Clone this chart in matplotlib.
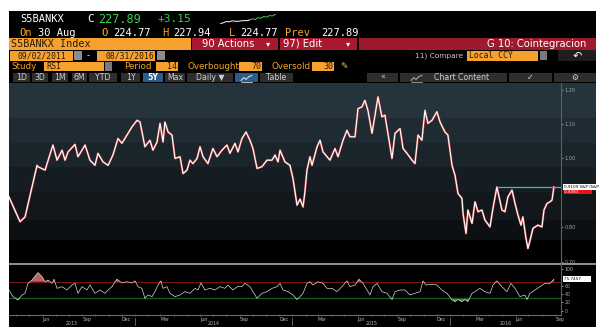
import matplotlib
matplotlib.use('Agg')
import matplotlib.pyplot as plt
import matplotlib.dates as mdates
import matplotlib.transforms as mtrans
from matplotlib.patches import Rectangle
from matplotlib.ticker import FormatStrFormatter
import numpy as np
import pandas as pd

# S5BANKX relative to S&P 500 (time as decimal year)
price_t = [2013.200, 2013.270, 2013.302, 2013.378, 2013.384, 2013.429, 2013.479, 2013.505, 2013.537, 2013.556,
           2013.575, 2013.619, 2013.638, 2013.683, 2013.714, 2013.746, 2013.765, 2013.797, 2013.829, 2013.860,
           2013.892, 2013.917, 2013.949, 2013.981, 2014.013, 2014.032, 2014.063, 2014.095, 2014.114, 2014.140,
           2014.159, 2014.178, 2014.190, 2014.210, 2014.235, 2014.254, 2014.286, 2014.305, 2014.330, 2014.349,
           2014.368, 2014.394, 2014.413, 2014.432, 2014.463, 2014.495, 2014.521, 2014.552, 2014.584, 2014.603,
           2014.635, 2014.654, 2014.679, 2014.705, 2014.730, 2014.749, 2014.775, 2014.806, 2014.838, 2014.870,
           2014.889, 2014.908, 2014.921, 2014.952, 2014.984, 2015.003, 2015.029, 2015.048, 2015.067, 2015.079,
           2015.092, 2015.111, 2015.124, 2015.156, 2015.175, 2015.194, 2015.238, 2015.270, 2015.289, 2015.321,
           2015.346, 2015.365, 2015.397, 2015.416, 2015.441, 2015.460, 2015.479, 2015.505, 2015.524, 2015.543,
           2015.568, 2015.587, 2015.606, 2015.632, 2015.651, 2015.683, 2015.702, 2015.727, 2015.759, 2015.778,
           2015.797, 2015.822, 2015.841, 2015.860, 2015.886, 2015.917, 2015.937, 2015.968, 2015.987, 2016.013,
           2016.032, 2016.051, 2016.076, 2016.083, 2016.102, 2016.114, 2016.140, 2016.159, 2016.178, 2016.203,
           2016.222, 2016.254, 2016.273, 2016.298, 2016.330, 2016.349, 2016.368, 2016.394, 2016.413, 2016.432,
           2016.451, 2016.463, 2016.483, 2016.495, 2016.514, 2016.527, 2016.559, 2016.584, 2016.597, 2016.616,
           2016.635, 2016.648, 2016.660]
price_v = [0.888, 0.816, 0.830, 0.980, 0.976, 0.966, 1.039, 0.995, 1.024, 0.995,
           1.019, 1.041, 1.005, 1.039, 0.995, 0.980, 1.015, 0.990, 0.980, 1.010,
           1.058, 1.044, 1.068, 1.092, 1.111, 1.106, 1.034, 1.053, 1.024, 1.048,
           1.102, 1.048, 1.106, 1.077, 1.068, 1.000, 1.005, 0.956, 0.966, 0.995,
           0.985, 1.000, 1.034, 1.005, 0.985, 1.029, 1.005, 1.024, 1.039, 1.015,
           1.044, 1.019, 1.058, 1.077, 1.053, 1.029, 0.971, 0.976, 0.995, 0.995,
           1.010, 0.990, 1.024, 0.990, 0.980, 0.942, 0.864, 0.882, 0.859, 0.903,
           0.966, 1.005, 0.980, 1.034, 1.053, 1.019, 0.995, 1.029, 1.005, 1.053,
           1.082, 1.063, 1.063, 1.145, 1.150, 1.169, 1.140, 1.073, 1.126, 1.179,
           1.121, 1.126, 1.073, 1.000, 1.073, 1.087, 1.029, 1.015, 0.995, 0.985,
           1.068, 1.053, 1.140, 1.102, 1.111, 1.136, 1.106, 1.077, 1.068, 0.980,
           0.951, 0.898, 0.884, 0.840, 0.782, 0.850, 0.811, 0.874, 0.845, 0.850,
           0.821, 0.801, 0.855, 0.917, 0.850, 0.845, 0.888, 0.908, 0.869, 0.835,
           0.806, 0.830, 0.767, 0.738, 0.772, 0.797, 0.806, 0.801, 0.850, 0.869,
           0.874, 0.879, 0.917]

# RSI(14)
rsi_t = [2013.200, 2013.225, 2013.257, 2013.283, 2013.302, 2013.321, 2013.346, 2013.384, 2013.410, 2013.429,
         2013.448, 2013.473, 2013.486, 2013.505, 2013.537, 2013.568, 2013.600, 2013.619, 2013.638, 2013.663,
         2013.695, 2013.714, 2013.746, 2013.778, 2013.810, 2013.829, 2013.854, 2013.873, 2013.886, 2013.917,
         2013.949, 2013.981, 2014.000, 2014.019, 2014.044, 2014.063, 2014.083, 2014.108, 2014.127, 2014.146,
         2014.165, 2014.178, 2014.203, 2014.222, 2014.254, 2014.286, 2014.317, 2014.349, 2014.381, 2014.400,
         2014.419, 2014.444, 2014.476, 2014.508, 2014.540, 2014.571, 2014.590, 2014.622, 2014.654, 2014.679,
         2014.698, 2014.730, 2014.749, 2014.775, 2014.806, 2014.838, 2014.870, 2014.902, 2014.921, 2014.940,
         2014.971, 2015.003, 2015.029, 2015.048, 2015.067, 2015.092, 2015.111, 2015.130, 2015.162, 2015.194,
         2015.219, 2015.251, 2015.283, 2015.314, 2015.346, 2015.365, 2015.397, 2015.422, 2015.448, 2015.473,
         2015.492, 2015.511, 2015.537, 2015.568, 2015.600, 2015.632, 2015.651, 2015.683, 2015.714, 2015.746,
         2015.778, 2015.810, 2015.829, 2015.848, 2015.886, 2015.917, 2015.949, 2015.981, 2016.013, 2016.032,
         2016.051, 2016.076, 2016.095, 2016.114, 2016.140, 2016.159, 2016.190, 2016.222, 2016.254, 2016.273,
         2016.298, 2016.330, 2016.362, 2016.387, 2016.413, 2016.444, 2016.476, 2016.489, 2016.508, 2016.540,
         2016.571, 2016.603, 2016.635, 2016.660]
rsi_v = [50, 34, 26, 38, 42, 66, 74, 92, 82, 70,
         74, 66, 76, 54, 58, 50, 62, 66, 42, 58,
         50, 62, 42, 50, 42, 50, 58, 70, 76, 67,
         70, 67, 72, 58, 54, 30, 38, 34, 46, 62,
         72, 54, 58, 42, 34, 38, 46, 42, 54, 50,
         67, 50, 54, 50, 58, 54, 62, 50, 59, 58,
         66, 58, 46, 30, 42, 46, 54, 58, 66, 50,
         46, 38, 27, 34, 42, 66, 70, 62, 70, 66,
         54, 54, 46, 58, 72, 58, 62, 76, 66, 50,
         38, 58, 66, 46, 42, 27, 46, 50, 50, 38,
         42, 46, 72, 62, 64, 62, 50, 42, 26, 22,
         27, 22, 27, 22, 42, 46, 54, 46, 42, 62,
         72, 58, 46, 66, 54, 34, 38, 27, 42, 50,
         58, 66, 66, 76]

spark_v = [0.0, 0.15, 0.35, 0.3, 0.45, 0.4, 0.38, 0.45, 0.5, 0.48,
           0.6, 0.8, 0.7, 1.0, 0.9, 1.2, 1.1, 1.35, 1.3, 1.55]

# tick labels hidden under the value boxes (0.90 / 80) are left out, as on the terminal
main_ticks = [0.70, 0.80, 1.00, 1.10, 1.20]
rsi_ticks = [0, 20, 40, 60, 100]
overbought, oversold = 70, 30
level_value = 0.917          # horizontal level drawn on the chart
level_start = 2016.298
last_label = "0.9109 S&P /S&P"
red_label = "0.9083"
red_label_value = 0.903
rsi_label = "75.7457"
x_start, x_end = 2013.200, 2016.705

ORANGE = '#F6A02D'
OTEXT = '#F5A623'
GREEN = '#38D14C'
RED = '#A8182E'
BTN = '#2E2E2E'
BLUE = '#2B5C8E'
MONO = 'DejaVu Sans Mono'


def to_date(ts):
    out = []
    for t in ts:
        y = int(t)
        out.append(pd.Timestamp(year=y, month=1, day=1) + pd.Timedelta(days=(t - y) * 365))
    return out


W, H = 606, 336


def box(x, y, w, h):
    return [x / W, 1 - (y + h) / H, w / W, h / H]


fig = plt.figure(figsize=(6.06, 3.36), dpi=100, facecolor='white')
ui = fig.add_axes([0, 0, 1, 1])
ui.axis('off')


def rect(x, y, w, h, c, z=1):
    ui.add_patch(Rectangle((x, y), w, h, facecolor=c, edgecolor='none', zorder=z))


def txt(x, y, s, c, size=7.0, family=MONO, **kw):
    ui.text(x, y, s, color=c, fontsize=size, va='center', family=family, zorder=4, **kw)


def chart_icon(x, y, c):
    # small line-chart glyph used on the toolbar buttons
    ui.plot([x, x + 3, x + 5, x + 8, x + 11], [y + 3, y, y + 2, y - 1, y - 2], color=c, lw=0.6, zorder=4)
    ui.plot([x, x + 11], [y + 4, y + 4], color=c, lw=0.5, zorder=4)


rect(9, 11, 587, 316, 'black')

# header row 1
txt(20, 19.5, 'S5BANKX', 'white', 7.5)
txt(87, 19.5, 'C', 'white', 8)
txt(98, 19.5, '227.89', GREEN, 8.5)
txt(158, 19.5, '+3.15', GREEN, 8)
# header row 2
txt(19, 32.5, 'On', OTEXT, 7.5)
txt(38, 32.5, '30 Aug', 'white', 7.5)
txt(101, 32.5, 'O', OTEXT, 7.5)
txt(113, 32.5, '224.77', 'white', 7.5)
txt(162, 32.5, 'H', OTEXT, 7.5)
txt(173, 32.5, '227.94', 'white', 7.5)
txt(229, 32.5, 'L', OTEXT, 7.5)
txt(240, 32.5, '224.77', 'white', 7.5)
txt(285, 32.5, 'Prev', OTEXT, 7.5)
txt(321, 32.5, '227.89', 'white', 7.5)

# header row 3
rect(9, 38, 182, 12, ORANGE)
txt(11, 44, 'S5BANKX Index', '#2A1A05', 7.3)
rect(192, 38, 86, 12, RED)
txt(202, 44, '90 Actions', 'white', 7.2, family='DejaVu Sans')
txt(266, 44, '▾', 'white', 6, family='DejaVu Sans')
rect(280, 38, 77, 12, RED)
txt(283, 44, '97) Edit', 'white', 7.2, family='DejaVu Sans')
txt(346, 44, '▾', 'white', 6, family='DejaVu Sans')
rect(359, 38, 237, 12, '#9C1A2C')
txt(586, 44, 'G 10: Cointegracion', 'white', 7.2, family='DejaVu Sans', ha='right')

# header row 4
rect(10, 51, 63, 10, ORANGE)
txt(18, 56, '09/02/2011', '#2A1A05', 5.8)
rect(74, 51, 8, 9, '#8C8C8C')
txt(86, 56, '-', 'white', 6)
rect(97, 51, 58, 10, ORANGE)
txt(105, 56, '08/31/2016', '#2A1A05', 5.8)
rect(157, 51, 8, 9, '#8C8C8C')
txt(415, 56, '11) Compare', '#C8C8C8', 5.3, family='DejaVu Sans')
rect(467, 51, 71, 10, ORANGE)
txt(469, 56, 'Local CCY', '#2A1A05', 5.8)
rect(540, 51, 7, 9, '#7A7A7A')
rect(558, 50, 38, 11, '#1E1E1E')
txt(577, 55.5, '↶', 'white', 8, family='DejaVu Sans', ha='center')

# header row 5
txt(11, 66.5, 'Study', OTEXT, 6.3, family='DejaVu Sans')
rect(44, 62, 60, 9, ORANGE)
txt(46, 66.5, 'RSI', '#2A1A05', 6)
rect(105, 62, 7, 9, '#7A7A7A')
txt(124, 66.5, 'Period', OTEXT, 6.3, family='DejaVu Sans')
rect(156, 62, 22, 9, ORANGE)
txt(177, 66.5, '14', '#2A1A05', 6, ha='right')
txt(187, 66.5, 'Overbought', OTEXT, 6.3, family='DejaVu Sans')
rect(239, 62, 23, 9, ORANGE)
txt(261, 66.5, '70', '#2A1A05', 6, ha='right')
txt(272, 66.5, 'Oversold', OTEXT, 6.3, family='DejaVu Sans')
rect(312, 62, 22, 9, ORANGE)
txt(333, 66.5, '30', '#2A1A05', 6, ha='right')
txt(340, 66.5, '✎', '#F5C842', 6.5, family='DejaVu Sans')

# header row 6: buttons
buttons = [('1D', 13, 17), ('3D', 32, 16), ('1M', 52, 16), ('6M', 72, 15), ('YTD', 89, 28),
           ('1Y', 121, 19), ('5Y', 143, 20), ('Max', 165, 20), ('Daily ▼', 187, 46), ('', 235, 23),
           ('Table', 260, 33), ('«', 367, 31), ('Chart Content', 400, 107), ('✓', 509, 43), ('⚙', 554, 42)]
for label, bx, bw in buttons:
    c = BLUE if (label == '5Y' or (label == '' and bx < 300)) else BTN
    rect(bx, 73, bw, 9, c)
    if label:
        txt(bx + bw / 2 + (8 if label == 'Chart Content' else 0), 77.5, label,
            'white' if label == '5Y' else '#D0D0D0', 5.6,
            family='DejaVu Sans', ha='center', weight='bold' if label == '5Y' else 'normal')
chart_icon(241, 77.5, 'white')
chart_icon(411, 77.5, '#C8C8C8')

# chart background gradient
band_colors = ['#24333C', '#1E2B33', '#19242B', '#151D23', '#11171B', '#0C1013', '#000000']
band_heights = [35, 25, 24, 25, 28, 20, 24]
rows = []
for c, hgt in zip(band_colors, band_heights):
    rows += [matplotlib.colors.to_rgb(c)] * hgt
grad = np.array(rows)[:, None, :]
ui.imshow(grad, extent=(9, 596, 264, 83), aspect='auto', interpolation='nearest', zorder=1)
rect(9, 263, 587, 1.6, '#8E8E8E', z=3)
ui.set_xlim(0, W)
ui.set_ylim(H, 0)

# header sparkline
sp = fig.add_axes(box(218, 14, 60, 10))
sp.axis('off')
sp.plot(range(11), spark_v[:11], color='white', lw=0.7)
sp.plot(range(10, len(spark_v)), spark_v[10:], color=GREEN, lw=0.7)

xlim = to_date([x_start, x_end])

# main panel
ax = fig.add_axes(box(9, 83, 552, 181))
ax.set_facecolor('none')
pdates = to_date(price_t)
ax.plot(pdates, price_v, color='#C94A4A', lw=1.5, solid_joinstyle='round')
ax.plot(pdates, price_v, color='white', lw=0.8, solid_joinstyle='round')
ax.hlines(level_value, to_date([level_start])[0], xlim[1], color='#3FB8C2', lw=0.9)
ax.set_xlim(xlim)
ax.set_ylim(0.693, 1.2195)
for s in ('top', 'left', 'bottom'):
    ax.spines[s].set_visible(False)
ax.spines['right'].set_color('#56626B')
ax.spines['right'].set_linewidth(0.8)
ax.set_xticks([])
ax.yaxis.tick_right()
ax.set_yticks(main_ticks)
ax.yaxis.set_major_formatter(FormatStrFormatter('%.2f'))
ax.tick_params(axis='y', labelsize=3.6, colors='#9AA4AA', length=1.5, width=0.6, pad=1)
bt = mtrans.blended_transform_factory(ax.transAxes, ax.transData)
ax.text(1.006, level_value, last_label, transform=bt, fontsize=3.0, color='black', va='center',
        bbox=dict(boxstyle='square,pad=0.2', fc='white', ec='none'), clip_on=False, zorder=5)
ax.text(1.006, red_label_value, red_label + '          ', transform=bt, fontsize=3.0, color='white',
        va='center', bbox=dict(boxstyle='square,pad=0.15', fc='#E8101A', ec='none'), clip_on=False, zorder=4)

# RSI panel
ar = fig.add_axes(box(9, 264, 552, 51))
ar.set_facecolor('none')
rdates = to_date(rsi_t)
rv = np.array(rsi_v, dtype=float)
ar.axhline(overbought, color='#7A1515', lw=0.8)
ar.axhline(oversold, color='#135A1D', lw=1.0)
ar.fill_between(rdates, rv, overbought, where=rv > overbought, interpolate=True, color='#B86464', lw=0)
ar.fill_between(rdates, rv, oversold, where=rv < oversold, interpolate=True, color='#3E9E45', lw=0)
ar.plot(rdates, rv, color='#D8D8D8', lw=0.5)
ar.set_xlim(xlim)
ar.set_ylim(-10.4, 112.8)
ar.spines['top'].set_visible(False)
ar.spines['left'].set_visible(False)
ar.spines['right'].set_color('#56626B')
ar.spines['right'].set_linewidth(0.8)
ar.spines['bottom'].set_color('#6A6A6A')
ar.spines['bottom'].set_linewidth(0.8)
ar.yaxis.tick_right()
ar.set_yticks(rsi_ticks)
ar.tick_params(axis='y', labelsize=3.4, colors='#A8A8A8', length=1.5, width=0.6, pad=1)
ar.xaxis.set_major_locator(mdates.MonthLocator())
ar.xaxis.set_major_formatter(plt.NullFormatter())
ar.tick_params(axis='x', colors='#777777', length=2, width=0.5, direction='inout')
rt = mtrans.blended_transform_factory(ar.transAxes, ar.transData)
ar.text(1.006, rsi_v[-1], rsi_label + '       ', transform=rt, fontsize=3.0, color='black', va='center',
        bbox=dict(boxstyle='square,pad=0.2', fc='white', ec='none'), clip_on=False, zorder=5)

xt = mtrans.blended_transform_factory(ar.transData, ar.transAxes)
for m in pd.date_range(xlim[0], xlim[1], freq='MS'):
    if m.month in (3, 6, 9, 12):
        ar.text(m, -0.03, m.strftime('%b'), transform=xt, fontsize=3.4, color='#B8B8B8',
                ha='left', va='top', clip_on=False)
    if m.month == 1:
        ar.plot([m, m], [-0.06, -0.2], transform=xt, color='#8A8A8A', lw=0.5, clip_on=False)
for yr in range(2013, 2017):
    a = max(pd.Timestamp(f'{yr}-01-01'), xlim[0])
    b = min(pd.Timestamp(f'{yr + 1}-01-01'), xlim[1])
    ar.text(a + (b - a) / 2, -0.12, str(yr), transform=xt, fontsize=3.4, color='#B8B8B8',
            ha='center', va='top', clip_on=False)

fig.savefig('out.png', dpi=100, facecolor='white')
